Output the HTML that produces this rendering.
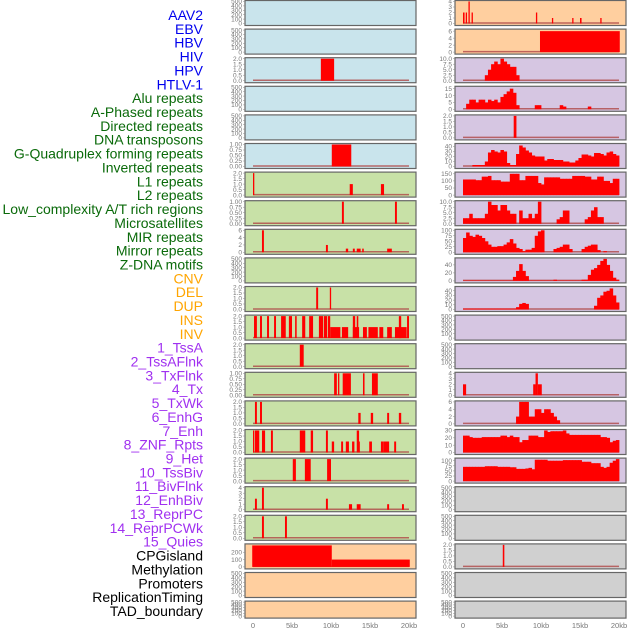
<!DOCTYPE html>
<html><head><meta charset="utf-8">
<style>
body{margin:0;background:#fff;width:630px;height:630px;overflow:hidden}
svg{display:block}
.lbl{font-family:"Liberation Sans",sans-serif;font-size:14px;text-anchor:end}
.tk{font-family:"Liberation Sans",sans-serif;font-size:6.5px;fill:#777;text-anchor:end}
.xt{font-family:"Liberation Sans",sans-serif;font-size:7.5px;fill:#777;text-anchor:middle}
</style></head>
<body>
<svg id="chart" width="630" height="630" viewBox="0 0 630 630" xmlns="http://www.w3.org/2000/svg"></svg>
<script>
// ---- track labels ----
const labelNames = ["AAV2","EBV","HBV","HIV","HPV","HTLV-1","Alu repeats","A-Phased repeats","Directed repeats","DNA transposons","G-Quadruplex forming repeats","Inverted repeats","L1 repeats","L2 repeats","Low_complexity A/T rich regions","Microsatellites","MIR repeats","Mirror repeats","Z-DNA motifs","CNV","DEL","DUP","INS","INV","1_TssA","2_TssAFlnk","3_TxFlnk","4_Tx","5_TxWk","6_EnhG","7_Enh","8_ZNF_Rpts","9_Het","10_TssBiv","11_BivFlnk","12_EnhBiv","13_ReprPC","14_ReprPCWk","15_Quies","CPGisland","Methylation","Promoters","ReplicationTiming","TAD_boundary"];
const labelGroups = [6,13,5,15,5];
const groupColors = ["#0000ee","#0a6a0a","#ffa500","#a030f0","#000000"];
const xTickValues = [0,5,10,15,20];
const xTickLabels = ["0","5kb","10kb","15kb","20kb"];

// ---- left column segments [startKb, endKb, value] ----
const L3 = [[8.7,10.4,2]];
const L6 = [[10.1,12.6,1]];
const L7 = [[0,0.15,2],[12.4,12.8,1],[16.4,16.8,1]];
const L8 = [[11.4,11.65,1],[18.2,18.45,1]];
const L9 = [[1.15,1.4,6],[9.35,9.6,2],[11.9,12.2,1],[12.8,13.05,1],[13.3,13.8,1],[14.0,14.2,1],[17.2,17.8,1]];
const L11 = [[8.1,8.35,2],[9.85,10.0,2]];
const L12 = [[0.13,0.5,2],[0.9,1.15,2],[1.8,2.05,2],[2.7,2.95,2],[3.6,4.2,2],[4.6,5.0,2],[5.4,5.6,2],[6.3,6.7,2],[7.2,7.7,2],[8.45,9.0,2],[9.1,9.5,2],[9.6,9.9,2],[9.9,11.2,1],[11.4,12.2,1],[12.8,13.6,1],[12.8,13.1,2],[13.3,13.5,2],[14.1,14.6,1],[14.8,16.0,1],[16.2,16.7,1],[17.2,17.8,1],[18.2,19.7,1],[18.7,19.0,2],[19.75,20.0,2]];
const L13 = [[6.0,6.5,2]];
const L14 = [[10.4,10.75,1],[10.9,11.05,1],[11.5,12.55,1],[14.1,14.3,1],[15.25,16.0,1]];
const L15 = [[0.25,0.5,2],[0.9,1.15,2],[13.5,13.8,1],[15.1,15.4,1],[17.2,17.45,1],[18.7,19.0,1]];
const L16 = [[0,0.15,2],[0.25,0.8,2],[1.15,1.55,2],[2.3,2.55,2],[6.0,6.7,2],[7.4,7.7,2],[9.35,9.6,2],[13.3,13.6,2],[10.1,10.4,1],[11.3,11.55,1],[11.9,12.3,1],[12.7,13.0,1],[13.5,13.7,1],[14.9,15.25,1],[16.4,16.7,1],[16.7,17.45,1],[18.1,18.35,1]];
const L17 = [[5.1,5.5,2],[6.65,7.4,2],[9.5,10.0,2]];
const L18 = [[0.25,0.5,2],[1.15,1.4,4],[9.35,9.6,2],[12.3,12.7,1],[13.3,13.8,1],[17.2,17.45,1],[19.1,19.35,1]];
const L19 = [[1.15,1.4,2],[4.1,4.35,2]];
const L20 = [[-0.1,10.1,293],[10.1,20.1,100]];

// ---- right column segments ----
const R1 = [[0,0.2,2],[0.35,0.5,2],[0.7,0.85,4],[1.1,1.25,2],[9.35,9.5,2],[11.4,11.55,1],[14.0,14.15,1],[15.0,15.2,1],[17.6,17.75,1]];
const R2 = [[9.87,20.1,6]];
const R5 = [[6.5,6.85,2]];
const R14 = [[0,0.4,2],[9.0,9.3,2],[9.3,9.6,4],[9.6,10.1,2]];
const R20 = [[5.1,5.3,2]];

// ---- right column profiles (50 bins of 0.4kb) ----
const P3 = [0,0,0,0,0,0,0,2.5,5,7.5,8.7,7.5,10,8.7,7.5,6.3,6.3,2.5,0,0,0,0,0,0,0,0,0,0,0,0,0,0,0,0,0,0,0,0,0,0,0,0,0,0,0,0,0,0,0,0];
const P4 = [0,4,7,7,5,7,7,5,7,6,7,5,9,11,13,15,12,3,0,0,0,0,0,3,3,0,0,0,0,0,0,3,2,0,0,0,0,0,0,0,2,0,0,0,0,0,0,0,0,0];
const P6 = [0,0,0,3,3,3,3,10,28,33,30,28,33,30,7,3,3,25,42,38,32,28,22,20,20,20,12,15,15,13,13,13,10,10,8,8,12,17,24,24,22,20,27,27,25,22,28,30,25,22];
const P7 = [110,110,110,110,105,105,130,130,135,105,105,105,95,95,95,150,150,150,105,105,135,135,135,135,85,75,125,125,125,125,125,115,115,115,115,135,135,135,135,130,130,110,110,130,130,100,100,85,115,115];
const P8 = [2.5,2.5,4.5,2.5,2.5,2.5,2.5,4.5,10,8.5,8.5,6,8.5,8.5,6,4.5,4.5,0,6,2.5,2.5,4.5,2.5,4.5,10,0,0,0,0,0,2,3,6,6,0,0,0,0,0,2,3,6,7.5,3,3,0,0,0,0,0];
const P9 = [65,90,75,70,80,75,65,50,35,25,25,28,28,35,45,60,40,20,15,5,12,12,20,75,95,100,0,0,0,15,20,25,35,35,15,0,0,0,15,25,30,35,35,10,0,5,0,0,0,0];
const P10 = [1,1,1,1,1,1,1,1,1,1,1,1,1,1,1,1,10,25,42,25,12,1,1,1,1,1,1,1,1,3,1,1,1,1,1,1,1,1,3,3,15,28,32,40,50,55,40,25,8,3];
const P11 = [2,2,2,2,2,2,2,2,2,2,2,2,2,2,2,2,2,5,12,14,12,0,0,0,0,0,0,0,0,0,0,0,0,0,0,0,0,0,0,0,0,0,8,25,30,38,40,45,30,15];
const P15 = [0,0,0,0,0,0,0,0,0,0,0,0,0,0,0,0,0,2,6,6,6,2,2,4,4,3,4,4,3,2,1,0,0,0,0,0,0,0,0,0,0,0,0,0,0,0,0,0,0,0];
const P16 = [23,23,21,20,20,20,21,21,21,21,21,21,23,23,21,23,21,21,14,17,17,23,23,23,21,21,30,28,29,29,29,29,30,26,24,24,24,24,24,24,24,24,24,24,21,21,20,14,16,17];
const P17 = [70,70,70,70,70,70,70,73,73,73,73,70,70,70,70,68,68,60,60,60,62,65,58,105,105,105,105,100,100,100,100,100,103,103,103,103,103,103,95,95,95,88,88,88,70,65,70,90,100,108];

// ---- panel definitions ----
const BLUE="#c9e4ec", GREEN="#c8e1a7", PEACH="#ffcf9f", LAV="#d6c6e2", GREY="#d0d0d0";
const leftBg = [BLUE,BLUE,BLUE,BLUE,BLUE,BLUE,GREEN,GREEN,GREEN,GREEN,GREEN,GREEN,GREEN,GREEN,GREEN,GREEN,GREEN,GREEN,GREEN,PEACH,PEACH,PEACH];
const rightBg = [PEACH,PEACH,LAV,LAV,LAV,LAV,LAV,LAV,LAV,LAV,LAV,LAV,LAV,LAV,LAV,LAV,LAV,GREY,GREY,GREY,GREY,GREY];
const leftData = [null,null,L3,null,null,L6,L7,L8,L9,null,L11,L12,L13,L14,L15,L16,L17,L18,L19,L20,null,null];
// [axisMax, tickStep, decimals, optional tickMax]
const leftAxis = [[500,100,0],[500,100,0],[2,0.5,1],[500,100,0],[500,100,0],[1,0.25,2],[2,0.5,1],[1,0.25,2],[6,2,0],[500,100,0],[2,0.5,1],[2,0.5,1],[2,0.5,1],[1,0.25,2],[2,0.5,1],[2,0.5,1],[2,0.5,1],[4,1,0],[2,0.5,1],[300,100,0,200],[500,100,0],[500,100,0]];
const rightSegs = [R1,R2,null,null,R5,null,null,null,null,null,null,null,null,R14,null,null,null,null,null,R20,null,null];
const rightProf = [null,null,P3,P4,null,P6,P7,P8,P9,P10,P11,null,null,null,P15,P16,P17,null,null,null,null,null];
const rightAxis = [[4,1,0],[6.3,2,0],[10,2.5,1],[16,5,0],[2,0.5,1],[44,10,0],[155,50,0],[10,2.5,1],[100,25,0],[55,20,0],[47,10,0],[500,100,0],[500,100,0],[4,1,0],[6,2,0],[30,10,0],[108,25,0],[500,100,0],[500,100,0],[2,0.5,1],[500,100,0],[500,100,0]];

const svg = document.getElementById('chart');
const NS = "http://www.w3.org/2000/svg";
function mk(tag, attrs, parent){const e=document.createElementNS(NS,tag);for(const k in attrs)e.setAttribute(k,attrs[k]);(parent||svg).appendChild(e);return e;}

let li=0;
labelGroups.forEach((n,g)=>{for(let j=0;j<n;j++){
  const t=mk('text',{x:203,y:15+li*13.86+5,'class':'lbl',fill:groupColors[g]});
  t.textContent=labelNames[li];
  
  
  li++;}});

const COLS=[{px:245,x0:253},{px:455,x0:463}];
const PW=171, KB=7.8;
function xs(col,kb){return COLS[col].x0+kb*KB;}
function rowTop(r){return r*28.6;}
function rowH(r){return r===21?17:25;}

function drawPanel(col,r,bg,axis,segs,prof){
  const t=rowTop(r), h=rowH(r), px=COLS[col].px;
  const g=mk('g',{});
  
  
  mk('rect',{x:px,y:t+0.5,width:PW,height:h,fill:bg,stroke:'#666','stroke-width':1.2},g);
  const ymax=axis[0],step=axis[1],dec=axis[2],tmax=(axis[3]!==undefined?axis[3]:ymax);
  const y0=t+h-1.5, span=h-3;
  const ys=v=>y0-v/ymax*span;
  for(let v=0;v<=tmax+1e-9;v+=step){
    const tx=mk('text',{x:px-3,y:ys(v)+2.2,'class':'tk'},g);
    tx.textContent=v.toFixed(dec);
    
    
    mk('line',{x1:px-2,x2:px,y1:ys(v),y2:ys(v),stroke:'#888','stroke-width':0.5},g);
  }
  if(segs||prof){
    const bl=mk('line',{x1:xs(col,0),x2:xs(col,20),y1:y0-0.5,y2:y0-0.5,stroke:'#b04848','stroke-width':1.5,opacity:0.8},g);
    
    
  }
  if(segs){segs.forEach(s=>{
    const x1=xs(col,s[0]), x2=xs(col,s[1]);
    const b=mk('rect',{x:x1,y:ys(s[2]),width:Math.max(1.3,x2-x1),height:y0-ys(s[2]),fill:'#ff0000'},g);
    
    
  });}
  if(prof){prof.forEach((v,i)=>{
    if(v<=0)return;
    const x1=xs(col,i*0.4), x2=xs(col,(i+1)*0.4);
    const b=mk('rect',{x:x1,y:ys(v),width:x2-x1+0.4,height:y0-ys(v),fill:'#ff0000'},g);
    
    
  });}
}
for(let r=0;r<22;r++){
  drawPanel(0,r,leftBg[r],leftAxis[r],leftData[r],null);
  drawPanel(1,r,rightBg[r],rightAxis[r],rightSegs[r],rightProf[r]);
}
[0,1].forEach(col=>{
  xTickValues.forEach((v,i)=>{
    const tx=mk('text',{x:xs(col,v),y:628,'class':'xt'});
    tx.textContent=xTickLabels[i];
    
    
  });
});
</script>
</body></html>
